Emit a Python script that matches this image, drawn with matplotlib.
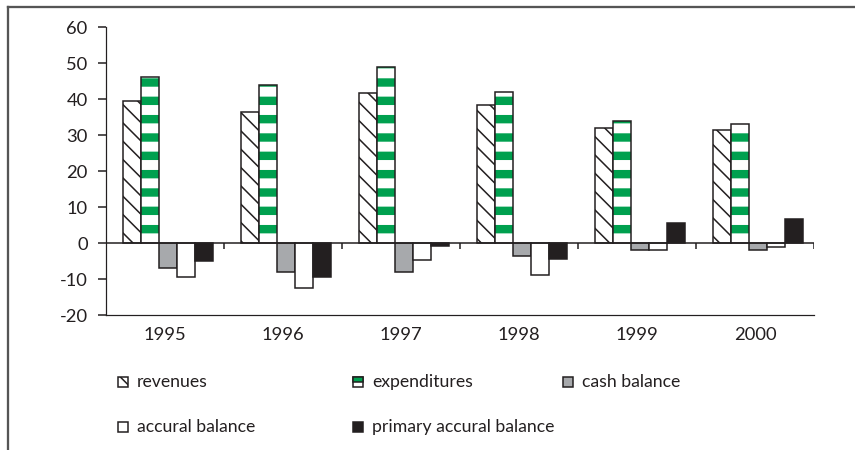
import numpy as np
import matplotlib
matplotlib.use("Agg")
import matplotlib.pyplot as plt
from matplotlib.lines import Line2D
from matplotlib.patches import Rectangle

# ---------------- DATA ----------------
years = ["1995", "1996", "1997", "1998", "1999", "2000"]
revenues = [39.4, 36.5, 41.6, 38.4, 32.0, 31.5]
expenditures = [46.2, 44.0, 49.0, 41.9, 34.0, 33.0]
cash_balance = [-6.9, -8.0, -8.0, -3.5, -2.0, -2.0]
accural_balance = [-9.4, -12.4, -4.6, -9.0, -2.0, -1.0]
primary_accural_balance = [-4.9, -9.5, -0.8, -4.5, 5.6, 6.6]

GREEN = "#00a04f"
GREY = "#a7a9ac"
DARK = "#231f20"

plt.rcParams["font.family"] = ["Lato", "DejaVu Sans"]
plt.rcParams["axes.unicode_minus"] = False

DPI = 110
fig = plt.figure(figsize=(855 / DPI, 450 / DPI), dpi=DPI)
ax = fig.add_axes([106 / 855, 135 / 450, 708 / 855, 288 / 450])

x = np.arange(len(years)) + 0.025
w = 0.1525

# revenues: backslash hatch
ax.bar(x - 2 * w, revenues, w, color="white", edgecolor=DARK,
       hatch="\\\\", linewidth=1, zorder=2)

# expenditures: green stripes + black outline
stripes = ax.bar(x - w, expenditures, w, color="white", edgecolor=GREEN,
                 hatch="-", linewidth=0, zorder=2)
for p in stripes:
    p.set_hatch_linewidth(5.5)
ax.bar(x - w, expenditures, w, fill=False, edgecolor=DARK, linewidth=1, zorder=3)

ax.bar(x, cash_balance, w, color=GREY, edgecolor=DARK, linewidth=1, zorder=2)
ax.bar(x + w, accural_balance, w, color="white", edgecolor=DARK, linewidth=1, zorder=2)
ax.bar(x + 2 * w, primary_accural_balance, w, color=DARK, edgecolor=DARK,
       linewidth=1, zorder=2)

# axes styling
ax.set_xlim(-0.5, len(years) - 0.5)
ax.set_ylim(-20, 60)
ax.set_yticks(np.arange(-20, 61, 10))
ax.tick_params(axis="y", direction="out", length=5, width=1, color=DARK,
               labelsize=12, labelcolor=DARK, pad=7)
ax.set_xticks([])
for s in ["top", "right"]:
    ax.spines[s].set_visible(False)
ax.spines["left"].set_color(DARK)
ax.spines["bottom"].set_color(DARK)

# zero line with category boundary ticks
ax.axhline(0, color=DARK, lw=1, zorder=4)
bounds = np.arange(len(years) + 1) - 0.5
ax.vlines(bounds[1:], -1.7, 0, color=DARK, lw=1, zorder=4)

for xi, yr in zip(np.arange(len(years)), years):
    ax.text(xi, -0.07, yr, transform=ax.get_xaxis_transform(),
            ha="center", va="center", fontsize=12, color=DARK)

# ---------------- LEGEND (manual) ----------------
W, H = 855, 450
sq = 10


def legend_item(px, py, label, **kw):
    r = Rectangle(((px - sq / 2) / W, 1 - (py + sq / 2) / H), sq / W, sq / H,
                  transform=fig.transFigure, linewidth=1, edgecolor=DARK, **kw)
    fig.add_artist(r)
    fig.text((px + 14) / W, 1 - py / H, label, ha="left", va="center",
             fontsize=11.5, color=DARK)
    return r


legend_item(123, 382, "revenues", facecolor="white", hatch="\\\\")
legend_item(123, 427, "accural balance", facecolor="white")
legend_item(358, 427, "primary accural balance", facecolor=DARK)
legend_item(568, 382, "cash balance", facecolor=GREY)
# expenditures: green top half, white bottom half
legend_item(358, 382, "expenditures", facecolor="white")
fig.add_artist(Rectangle(((358 - sq / 2) / W, 1 - 382 / H), sq / W, (sq / 2) / H,
                         transform=fig.transFigure, facecolor=GREEN,
                         edgecolor=DARK, linewidth=1))

# ---------------- FRAME ----------------
fig.add_artist(Line2D([8 / W, 1], [1 - 7 / H, 1 - 7 / H], color="#555555", lw=1.5,
                      transform=fig.transFigure))
fig.add_artist(Line2D([8 / W, 8 / W], [0, 1 - 7 / H], color="#555555", lw=1.5,
                      transform=fig.transFigure))

fig.savefig("out.png", dpi=DPI)
